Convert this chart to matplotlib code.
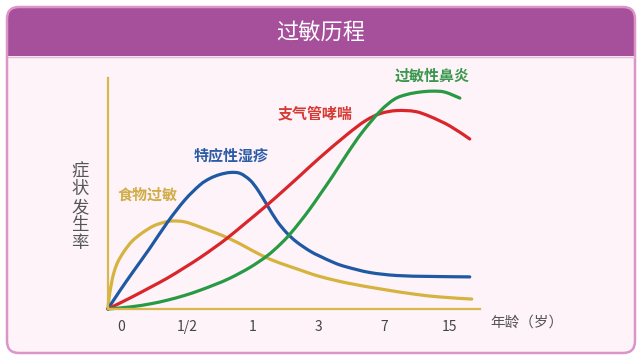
import matplotlib
matplotlib.use("Agg")
import matplotlib.pyplot as plt
import numpy as np
from matplotlib.patches import FancyBboxPatch, Rectangle, PathPatch
from matplotlib.path import Path

plt.rcParams['font.family'] = ['Noto Sans CJK SC', 'DejaVu Sans']

# x is the position on the age axis (0 = birth, 1 = 1/2 year, 2 = 1 year, ...)
age_ticks = [0, 1, 2, 3, 4, 5]
age_labels = ["0", "1/2", "1", "3", "7", "15"]

food_x = [-0.20, -0.18, -0.15, -0.11, -0.05, 0.05, 0.17, 0.32, 0.49, 0.64, 0.78, 0.97,
          1.20, 1.66, 2.22, 2.72, 3.02, 3.43, 3.94, 4.44, 4.85, 5.33]
food_y = [0, 5.2, 10.4, 15.6, 20.3, 25.1, 29.4, 32.9, 35.9, 37.4, 38.1, 37.7,
          35.5, 30.3, 22.1, 16.9, 14.1, 11.3, 8.7, 6.5, 5.2, 4.3]

eczema_x = [-0.20, -0.02, 0.18, 0.44, 0.71, 0.97, 1.20, 1.35, 1.50, 1.66, 1.81, 1.96,
            2.08, 2.22, 2.37, 2.52, 2.67, 2.87, 3.02, 3.25, 3.43, 3.78, 4.19, 4.70, 5.30]
eczema_y = [0, 7.8, 16.0, 26.4, 37.7, 47.2, 53.7, 56.5, 58.2, 59.1, 58.7, 55.8,
            51.5, 45.0, 38.1, 32.9, 29.0, 25.1, 22.9, 19.9, 18.2, 15.8, 14.5, 14.1, 13.9]

asthma_x = [-0.20, 0.14, 0.44, 0.70, 0.97, 1.20, 1.43, 1.61, 1.88, 2.22, 2.49, 2.72,
            3.02, 3.43, 3.71, 3.94, 4.19, 4.47, 4.70, 5.00, 5.30]
asthma_y = [0, 4.8, 9.3, 13.3, 18.0, 22.2, 26.8, 30.6, 36.9, 45.0, 51.8, 57.7,
            65.5, 75.4, 81.4, 84.6, 85.9, 85.5, 83.3, 79.2, 73.6]

rhinitis_x = [-0.20, 0.14, 0.44, 0.70, 0.97, 1.20, 1.43, 1.66, 1.96, 2.22, 2.42, 2.57,
              2.72, 2.87, 3.02, 3.22, 3.43, 3.66, 3.94, 4.16, 4.35, 4.54, 4.73, 4.92, 5.15]
rhinitis_y = [0, 0.9, 2.2, 3.8, 5.9, 8.1, 10.6, 13.4, 18.0, 23.0, 28.0, 32.5,
              37.7, 43.3, 49.4, 57.7, 66.9, 76.3, 85.7, 90.9, 92.9, 93.9, 94.3, 93.9, 91.3]

GOLD = "#d6b23e"
BLUE = "#1f58a3"
RED = "#d8262b"
GREEN = "#289a44"
CARD_BG = "#fdf3f9"
HEADER = "#a64f9a"
BORDER = "#dc95c8"


def smooth_path(xs, ys):
    # bezier segments through the read points (catmull-rom style handles)
    p = np.column_stack([xs, ys])
    verts = [p[0]]
    codes = [Path.MOVETO]
    n = len(p)
    for i in range(n - 1):
        p0 = p[i - 1] if i > 0 else p[i]
        p3 = p[i + 2] if i + 2 < n else p[i + 1]
        c1 = p[i] + (p[i + 1] - p0) / 6
        c2 = p[i + 1] - (p3 - p[i]) / 6
        verts += [c1, c2, p[i + 1]]
        codes += [Path.CURVE4] * 3
    return Path(verts, codes)


fig = plt.figure(figsize=(6.42, 3.62), dpi=100)

# card background, drawn in pixel coordinates
bg = fig.add_axes([0, 0, 1, 1])
bg.set_xlim(0, 642)
bg.set_ylim(362, 0)
bg.axis("off")
bg.add_patch(FancyBboxPatch((7, 7), 628, 346, boxstyle="round,pad=0,rounding_size=12",
                            facecolor=CARD_BG, edgecolor="none"))
bg.add_patch(FancyBboxPatch((7, 7), 628, 70, boxstyle="round,pad=0,rounding_size=12",
                            facecolor=HEADER, edgecolor="none"))
bg.add_patch(Rectangle((8, 56), 626, 40, facecolor=CARD_BG, edgecolor="none"))
bg.plot([8, 634], [56.5, 56.5], color="#e6bcd9", lw=1)
bg.add_patch(FancyBboxPatch((7, 7), 628, 346, boxstyle="round,pad=0,rounding_size=12",
                            facecolor="none", edgecolor=BORDER, lw=1.8))
bg.text(321, 32, "过敏历程", color="white", fontsize=16, ha="center", va="center")
bg.text(80, 207, "\n".join("症状发生率"), color="#555555", fontsize=12.5,
        ha="center", va="center", linespacing=1.0)
bg.text(490, 323, "年龄（岁）", color="#555555", fontsize=10.5, ha="left", va="center")

ax = fig.add_axes([108 / 642, 53 / 362, 372 / 642, 231 / 362])
ax.patch.set_alpha(0)
ax.set_xlim(-0.198, 5.456)
ax.set_ylim(0, 100)

for xs, ys, c in [(food_x, food_y, GOLD), (eczema_x, eczema_y, BLUE),
                  (asthma_x, asthma_y, RED), (rhinitis_x, rhinitis_y, GREEN)]:
    ax.add_patch(PathPatch(smooth_path(xs, ys), facecolor="none", edgecolor=c,
                           lw=2.3, clip_on=False, capstyle="round", joinstyle="round"))

lab = dict(fontsize=10.8, ha="center", va="center", fontweight="bold")
ax.text(0.40, 49.4, "食物过敏", color="#d0ad48", **lab)
ax.text(1.67, 66.7, "特应性湿疹", color="#2c5ca6", **lab)
ax.text(2.95, 84.8, "支气管哮喘", color="#d63a33", **lab)
ax.text(4.73, 100.9, "过敏性鼻炎", color="#3a984d", **lab)

for s in ["top", "right"]:
    ax.spines[s].set_visible(False)
for s in ["left", "bottom"]:
    ax.spines[s].set_color("#d8b84c")
    ax.spines[s].set_linewidth(1.6)
ax.set_xticks(age_ticks)
ax.set_xticklabels(age_labels, fontsize=10, color="#444444")
ax.set_yticks([])
ax.tick_params(axis="x", length=0, pad=8)

fig.savefig("out.png", dpi=100)
